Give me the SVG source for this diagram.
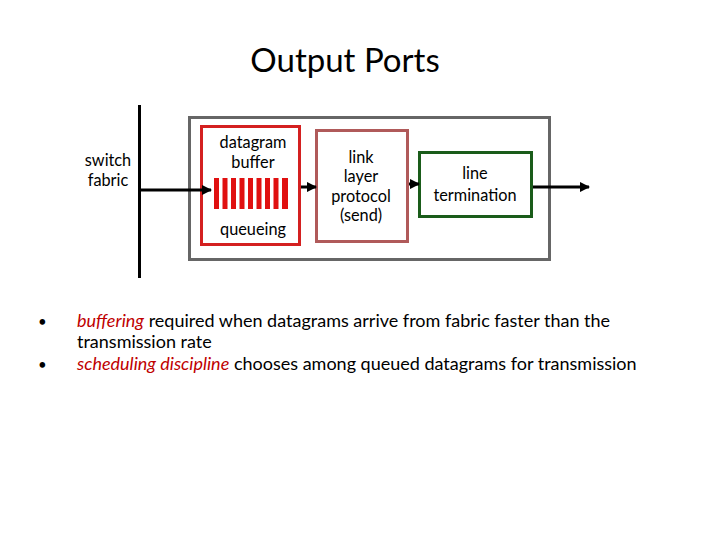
<svg xmlns="http://www.w3.org/2000/svg" width="720" height="540" viewBox="0 0 720 540">
<style>
text{font-family:Lato,"Open Sans","Liberation Sans",sans-serif;fill:#000}
.lbl{font-size:16.3px;text-anchor:middle}
.title{font-size:33px;text-anchor:middle}
.body{font-size:18px}
.dot{font-size:15px}
.red{fill:#c00000;font-style:italic}
.conn line{stroke:#000;stroke-width:3}
</style>
<defs>
<marker id="ah" viewBox="0 0 10 10" refX="9" refY="5" markerWidth="3.5" markerHeight="3.5" orient="auto" markerUnits="strokeWidth">
<path d="M0,0 L10,5 L0,10 z" fill="#000"/>
</marker>
</defs>
<rect width="720" height="540" fill="#fff"/>
<text class="title" x="345" y="72">Output Ports</text>
<g id="switch-fabric">
<line x1="139.5" y1="105" x2="139.5" y2="278" stroke="#000" stroke-width="3"/>
<text class="lbl" x="108" y="166">switch</text>
<text class="lbl" x="108" y="186">fabric</text>
</g>
<g id="output-port">
<rect x="189.5" y="117.5" width="360" height="142" fill="none" stroke="#666" stroke-width="3"/>
</g>
<g id="datagram-buffer">
<rect x="201.5" y="126.5" width="98" height="118" fill="#fff" stroke="#d42020" stroke-width="3"/>
<text class="lbl" x="253" y="148">datagram</text>
<text class="lbl" x="253" y="168">buffer</text>
<g fill="#e01010">
<rect x="214" y="178" width="5" height="31"/>
<rect x="222.5" y="178" width="5" height="31"/>
<rect x="231" y="178" width="5" height="31"/>
<rect x="239.5" y="178" width="5" height="31"/>
<rect x="248" y="178" width="5" height="31"/>
<rect x="256.5" y="178" width="5" height="31"/>
<rect x="265" y="178" width="5" height="31"/>
<rect x="273.5" y="178" width="5" height="31"/>
<rect x="282" y="178" width="6" height="31"/>
</g>
<text class="lbl" x="253" y="235">queueing</text>
</g>
<g id="link-layer">
<rect x="316.5" y="130.5" width="91" height="111" fill="#fff" stroke="#b05a5a" stroke-width="3"/>
<text class="lbl" x="361" y="163">link</text>
<text class="lbl" x="361" y="182">layer</text>
<text class="lbl" x="361" y="202">protocol</text>
<text class="lbl" x="361" y="221">(send)</text>
</g>
<g id="line-termination">
<rect x="419.5" y="152.5" width="112" height="64" fill="#fff" stroke="#1a5c1a" stroke-width="3"/>
<text class="lbl" x="475" y="179">line</text>
<text class="lbl" x="475" y="201">termination</text>
</g>
<g class="conn" id="connectors">
<line x1="139" y1="190" x2="211" y2="190" marker-end="url(#ah)"/>
<line x1="301" y1="187" x2="316" y2="187" marker-end="url(#ah)"/>
<line x1="409" y1="184" x2="419" y2="184" marker-end="url(#ah)"/>
<line x1="533" y1="187" x2="589" y2="187" marker-end="url(#ah)"/>
</g>
<g id="bullets">
<text class="dot" x="38" y="327">•</text>
<text class="body" x="77" y="327"><tspan class="red">buffering</tspan> required when datagrams arrive from fabric faster than the</text>
<text class="body" x="77" y="348">transmission rate</text>
<text class="dot" x="38" y="370">•</text>
<text class="body" x="77" y="370"><tspan class="red">scheduling discipline</tspan> chooses among queued datagrams for transmission</text>
</g>
</svg>
